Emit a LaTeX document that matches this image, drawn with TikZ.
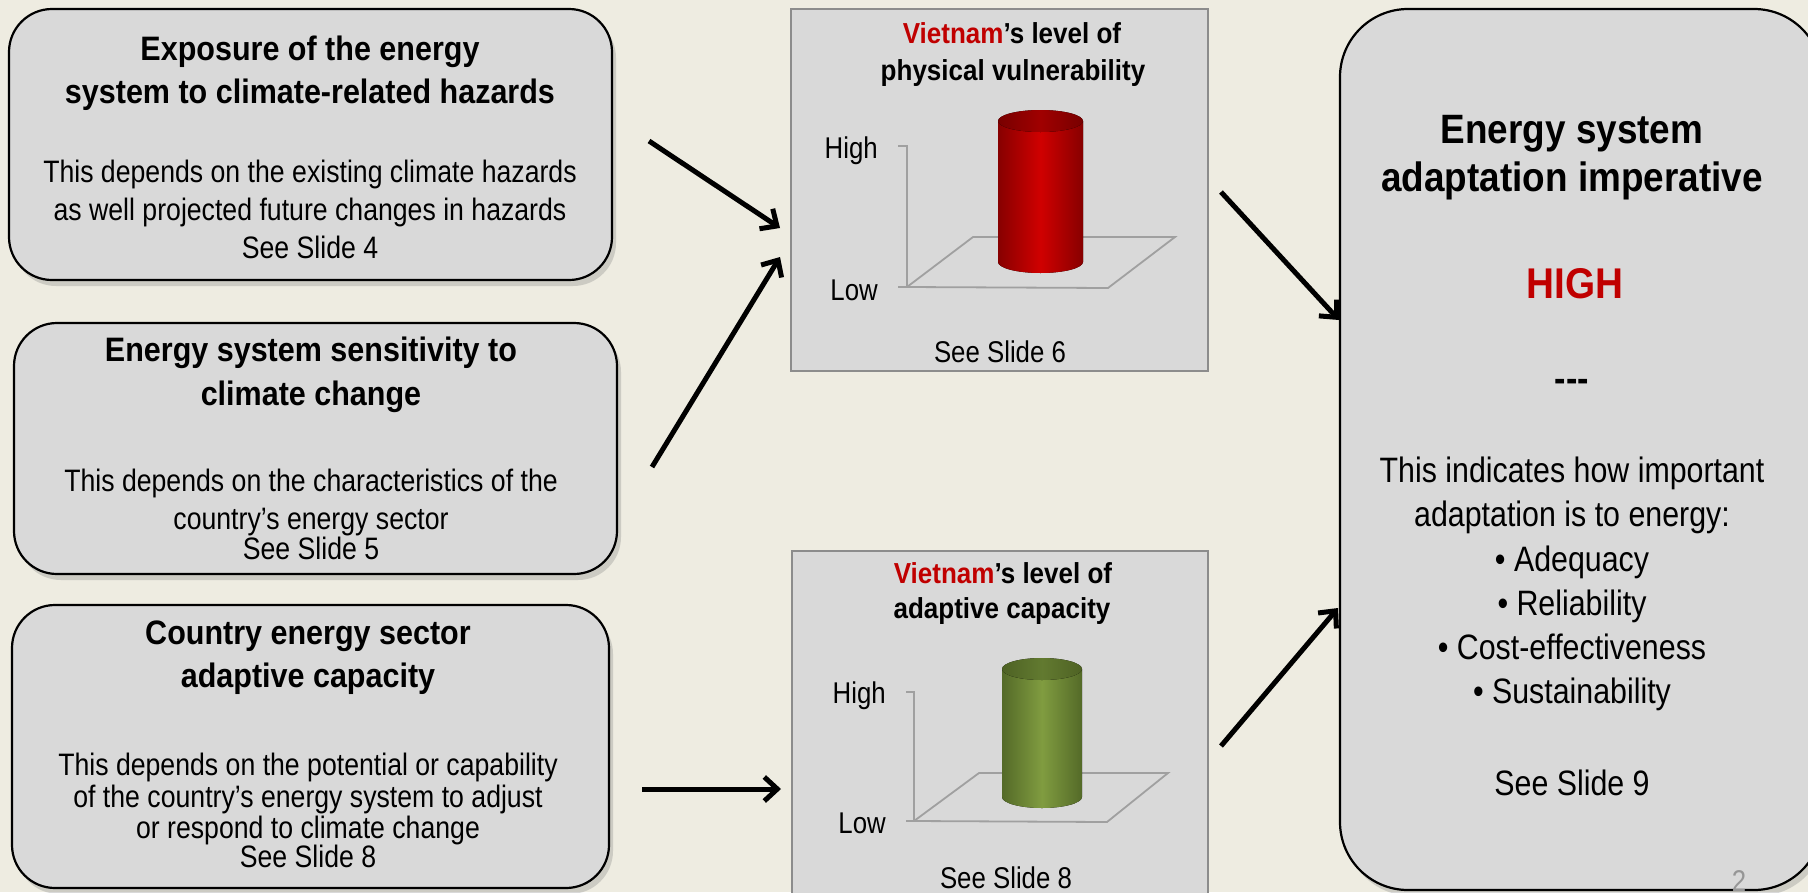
\documentclass[tikz,border=0pt]{standalone}
\usepackage{fontspec}
\setmainfont{Liberation Sans}[FakeStretch=0.86]
\newfontfamily\bfam{Liberation Sans}[FakeStretch=0.9]
\usetikzlibrary{arrows.meta,shadows}
\definecolor{bg}{RGB}{238,236,225}
\definecolor{boxfill}{RGB}{217,217,217}
\definecolor{vred}{RGB}{192,0,0}
\definecolor{chartedge}{RGB}{140,140,140}
\definecolor{axisgray}{RGB}{160,160,160}
\definecolor{rdark}{RGB}{135,0,0}
\definecolor{rmid}{RGB}{208,0,0}
\definecolor{rtopd}{RGB}{120,0,0}
\definecolor{rtopm}{RGB}{160,0,0}
\definecolor{gdark}{RGB}{84,106,40}
\definecolor{gmid}{RGB}{128,156,64}
\definecolor{gtopd}{RGB}{78,98,36}
\definecolor{gtopm}{RGB}{98,122,48}
\definecolor{pagegray}{RGB}{150,150,150}
\tikzset{
  lbox/.style={draw=black, line width=2.2pt, fill=boxfill, rounded corners=43pt,
    drop shadow={shadow xshift=4pt, shadow yshift=-6pt, opacity=0.3}},
  rbox/.style={draw=black, line width=2.2pt, fill=boxfill, rounded corners=68pt,
    drop shadow={shadow xshift=4pt, shadow yshift=-6pt, opacity=0.3}},
  cbox/.style={draw=chartedge, line width=1.5pt, fill=boxfill},
  ttl/.style={font=\bfam\bfseries\fontsize{33.9}{40}\selectfont, anchor=base, inner sep=0pt},
  bdy/.style={font=\fontsize{31}{37}\selectfont, anchor=base, inner sep=0pt},
  rttl/.style={font=\bfam\bfseries\fontsize{41}{48}\selectfont, anchor=base, inner sep=0pt},
  rbdy/.style={font=\fontsize{35.3}{42}\selectfont, anchor=base, inner sep=0pt},
  cttl/.style={font=\bfam\bfseries\fontsize{28.9}{34}\selectfont, anchor=base, inner sep=0pt},
  clab/.style={font=\fontsize{30}{36}\selectfont, anchor=base, inner sep=0pt},
  axisline/.style={draw=axisgray, line width=1.8pt},
  arr/.style={line width=5pt, -{Straight Barb[length=13pt, width=24pt]}},
}
\begin{document}
\begin{tikzpicture}[x=1pt,y=-1pt]
\useasboundingbox (0,0) rectangle (1808,892);
\fill[bg] (0,0) rectangle (1808,892);

% left boxes
\node[lbox, minimum width=603pt, minimum height=271pt] (b1) at (310.5,144.5) {};
\node[lbox, minimum width=603pt, minimum height=251pt] (b2) at (315.5,448.5) {};
\node[lbox, minimum width=597pt, minimum height=283pt] (b3) at (310.5,746.5) {};

% right box
\node[rbox, minimum width=482pt, minimum height=881pt] (rb) at (1581,449.5) {};

% chart boxes
\node[cbox, minimum width=417pt, minimum height=362pt] (c1) at (999.5,190) {};
\node[cbox, minimum width=416pt, minimum height=354pt] (c2) at (1000,728) {};

% box 1 text
\node[ttl] (t11) at (310,60.5) {Exposure of the energy};
\node[ttl] (t12) at (310,103) {system to climate-related hazards};
\node[bdy] (t13) at (310,182) {This depends on the existing climate hazards};
\node[bdy] (t14) at (310,220) {as well projected future changes in hazards};
\node[bdy] (t15) at (310,258) {See Slide 4};

% box 2 text
\node[ttl] (t21) at (311,361.7) {Energy system sensitivity to};
\node[ttl] (t22) at (311,405) {climate change};
\node[bdy] (t23) at (311,491.7) {This depends on the characteristics of the};
\node[bdy] (t24) at (311,529.3) {country’s energy sector};
\node[bdy] (t25) at (311,559.3) {See Slide 5};

% box 3 text
\node[ttl] (t31) at (308,644) {Country energy sector};
\node[ttl] (t32) at (308,687) {adaptive capacity};
\node[bdy] (t33) at (308,775) {This depends on the potential or capability};
\node[bdy] (t34) at (308,807) {of the country’s energy system to adjust};
\node[bdy] (t35) at (308,838) {or respond to climate change};
\node[bdy] (t36) at (308,867) {See Slide 8};

% right box text
\node[rttl] (r1) at (1572,143.5) {Energy system};
\node[rttl] (r2) at (1572,191) {adaptation imperative};
\node[rttl, text=vred, font=\bfam\bfseries\fontsize{43}{50}\selectfont] (r3) at (1575,298) {HIGH};
\node[rttl, font=\bfam\bfseries\fontsize{38}{45}\selectfont] (r4) at (1572,391.6) {---};
\node[rbdy] (r5) at (1572,482) {This indicates how important};
\node[rbdy] (r6) at (1572,526.5) {adaptation is to energy:};
\node[rbdy] (r7) at (1572,571) {• Adequacy};
\node[rbdy] (r8) at (1572,615) {• Reliability};
\node[rbdy] (r9) at (1572,659) {• Cost-effectiveness};
\node[rbdy] (r10) at (1572,703) {• Sustainability};
\node[rbdy] (r11) at (1572,795) {See Slide 9};
\node[font=\fontsize{30}{36}\selectfont, text=pagegray, anchor=base, inner sep=0pt] (pg) at (1739,891) {2};

% chart 1
\node[cttl] (c1t1) at (1012,43.3) {\textcolor{vred}{Vietnam}’s level of};
\node[cttl] (c1t2) at (1013,80) {physical vulnerability};
\node[clab, anchor=base east] (c1h) at (878,158) {High};
\node[clab, anchor=base east] (c1l) at (878,300) {Low};
\node[clab] (c1s) at (1000,362) {See Slide 6};
\draw[axisline] (898,146) -- (907,146) -- (907,287) -- (898,287);
\draw[axisline] (907,287) -- (1108,288) -- (1175,237) -- (973,237) -- cycle;
\fill[left color=rdark, right color=rdark, middle color=rmid]
  (998,121) -- (998,262) arc[start angle=180, end angle=0, x radius=42.5, y radius=11] -- (1083,121) -- cycle;
\fill[left color=rtopd, right color=rtopd, middle color=rtopm] (1040.5,121) ellipse [x radius=42.5, y radius=11];

% chart 2
\node[cttl] (c2t1) at (1003,583.3) {\textcolor{vred}{Vietnam}’s level of};
\node[cttl] (c2t2) at (1002,618) {adaptive capacity};
\node[clab, anchor=base east] (c2h) at (886,703) {High};
\node[clab, anchor=base east] (c2l) at (886,833) {Low};
\node[clab] (c2s) at (1006,888) {See Slide 8};
\draw[axisline] (906,692) -- (914,692) -- (914,821) -- (906,821);
\draw[axisline] (914,821) -- (1107,822) -- (1168,773) -- (979,773) -- cycle;
\fill[left color=gdark, right color=gdark, middle color=gmid]
  (1002,669) -- (1002,797) arc[start angle=180, end angle=0, x radius=40, y radius=11] -- (1082,669) -- cycle;
\fill[left color=gtopd, right color=gtopd, middle color=gtopm] (1042,669) ellipse [x radius=40, y radius=11];

% arrows
\coordinate (a1s) at (649,141);  \coordinate (a1e) at (780,228);
\coordinate (a2s) at (652,467);  \coordinate (a2e) at (780,257);
\coordinate (a3s) at (642,789);  \coordinate (a3e) at (781,789);
\coordinate (a4s) at (1221,192); \coordinate (a4e) at (1339,320);
\coordinate (a5s) at (1221,746); \coordinate (a5e) at (1338,608);
\draw[arr] (a1s) -- (a1e);
\draw[arr] (a2s) -- (a2e);
\draw[arr] (a3s) -- (a3e);
\draw[arr] (a4s) -- (a4e);
\draw[arr] (a5s) -- (a5e);
\end{tikzpicture}
\end{document}
